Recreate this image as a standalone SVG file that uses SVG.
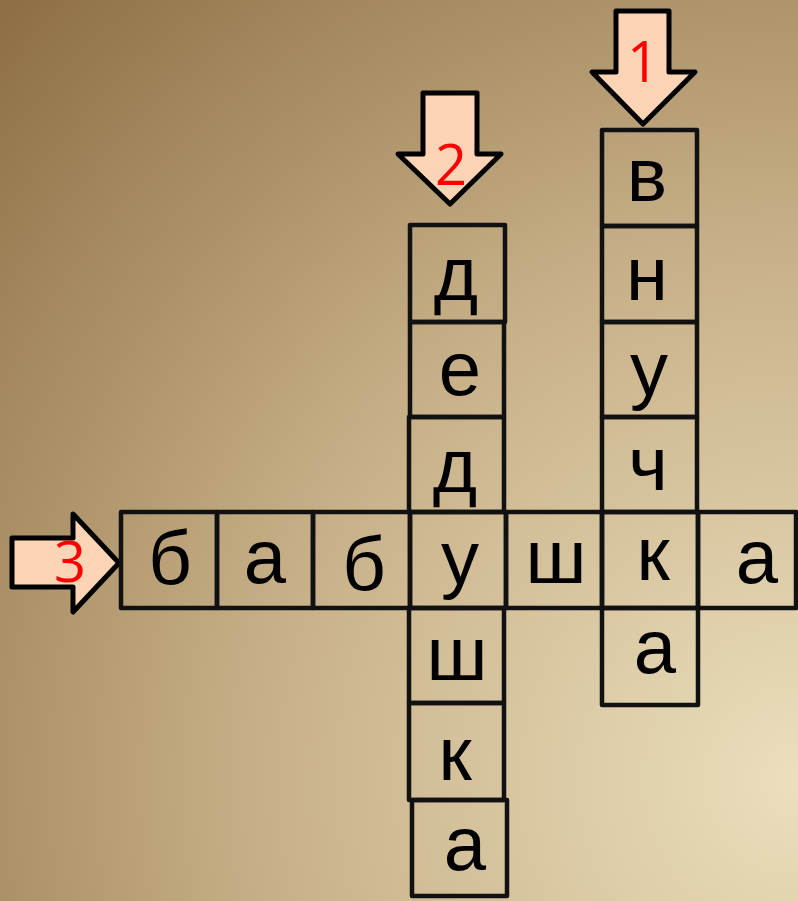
<svg xmlns="http://www.w3.org/2000/svg" width="798" height="901" viewBox="0 0 798 901">
<defs>
<radialGradient id="bg" cx="798" cy="780" r="1150" gradientUnits="userSpaceOnUse">
<stop offset="0" stop-color="#ebdfbd"/>
<stop offset="0.45" stop-color="#c9b28a"/>
<stop offset="1" stop-color="#8a6a40"/>
</radialGradient>
<style>
.c{fill:none;stroke:#111;stroke-width:4.5;stroke-linejoin:round}
.l{font-family:"Liberation Sans",Arial,sans-serif;font-size:76px;fill:#000;text-anchor:middle}
.a{fill:#fdd5b6;stroke:#000;stroke-width:5;stroke-linejoin:round}
.n{font-family:"Open Sans","Liberation Sans",sans-serif;font-size:56px;fill:#ff0000;text-anchor:middle}
</style>
</defs>
<rect width="798" height="901" fill="url(#bg)"/>
<g id="arrow1">
<polygon class="a" points="616,11 669,11 669,72 695,72 643,124 592,72 616,72"/>
<text class="n" x="643" y="82">1</text>
</g>
<g id="arrow2">
<polygon class="a" points="423,93 477,93 477,154 501,154 450,204 398,154 423,154"/>
<text class="n" x="451" y="185">2</text>
</g>
<g id="arrow3">
<polygon class="a" points="12,538 73,538 73,514 119,563 73,612 73,587 12,587"/>
<text class="n" x="70" y="582">3</text>
</g>
<g id="word3">
<rect class="c" x="121" y="512" width="96" height="96"/>
<rect class="c" x="217" y="512" width="96" height="96"/>
<rect class="c" x="313" y="512" width="97" height="96"/>
<rect class="c" x="410" y="512" width="96" height="96"/>
<rect class="c" x="506" y="512" width="96" height="96"/>
<rect class="c" x="602" y="512" width="96" height="96"/>
<rect class="c" x="698" y="512" width="98" height="96"/>
<text class="l" x="170" y="584">б</text>
<text class="l" x="265" y="583">а</text>
<text class="l" x="364" y="590">б</text>
<text class="l" x="460" y="584">у</text>
<text class="l" x="556" y="583">ш</text>
<text class="l" x="653" y="580">к</text>
<text class="l" x="757" y="583">а</text>
</g>
<g id="word2">
<rect class="c" x="410" y="225" width="95" height="97"/>
<rect class="c" x="410" y="322" width="94" height="95"/>
<rect class="c" x="409" y="417" width="95" height="95"/>
<rect class="c" x="409" y="608" width="95" height="95"/>
<rect class="c" x="409" y="703" width="95" height="97"/>
<rect class="c" x="412" y="800" width="95" height="96"/>
<text class="l" x="456" y="300">д</text>
<text class="l" x="460" y="395">е</text>
<text class="l" x="455" y="492">д</text>
<text class="l" x="457" y="680">ш</text>
<text class="l" x="455" y="780">к</text>
<text class="l" x="465" y="870">а</text>
</g>
<g id="word1">
<rect class="c" x="602" y="130" width="95" height="96"/>
<rect class="c" x="602" y="226" width="95" height="96"/>
<rect class="c" x="602" y="322" width="95" height="95"/>
<rect class="c" x="602" y="417" width="95" height="95"/>
<rect class="c" x="602" y="608" width="96" height="97"/>
<text class="l" x="647" y="201">в</text>
<text class="l" x="647" y="300">н</text>
<text class="l" x="649" y="395">у</text>
<text class="l" x="648" y="490">ч</text>
<text class="l" x="655" y="673">а</text>
</g>
<g id="connectors"/>
</svg>
